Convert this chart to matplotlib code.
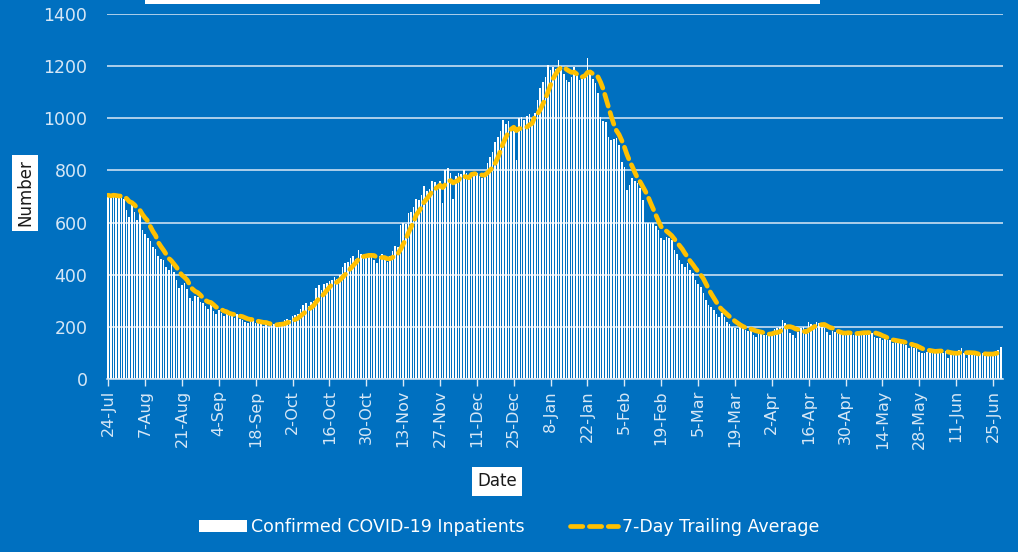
import matplotlib.pyplot as plt
import matplotlib.patches as mpatches
import numpy as np
import pandas as pd

# daily confirmed inpatients, 24-Jul-2020 onwards (14-day blocks)
inpatients = [
    705, 700, 710, 700, 695, 700, 690, 650, 620, 680, 640, 610, 650, 570,
    555, 540, 530, 505, 500, 470, 460, 455, 430, 420, 440, 410, 380, 350,
    360, 370, 345, 310, 300, 320, 315, 295, 290, 280, 270, 285, 260, 250,
    265, 255, 240, 250, 245, 240, 235, 250, 230, 225, 220, 215, 225, 230,
    215, 220, 210, 205, 212, 200, 215, 210, 205, 218, 212, 225, 230, 228,
    240, 245, 250, 270, 285, 290, 280, 295, 300, 350, 360, 340, 365, 370,
    375, 380, 390, 385, 400, 430, 445, 450, 465, 470, 460, 495, 480, 470,
    465, 480, 470, 455, 445, 470, 480, 460, 450, 470, 490, 510, 505, 590,
    600, 595, 635, 640, 660, 690, 685, 705, 740, 720, 730, 760, 755, 740,
    760, 675, 800, 810, 790, 690, 780, 790, 785, 800, 790, 770, 780, 795,
    790, 780, 770, 790, 830, 850, 870, 910, 930, 950, 995, 980, 990, 955,
    960, 840, 1000, 1005, 995, 1010, 1015, 1000, 1020, 1070, 1115, 1140, 1160, 1205,
    1185, 1198, 1190, 1225, 1200, 1170, 1147, 1140, 1160, 1198, 1170, 1147, 1150, 1175,
    1230, 1175, 1150, 1134, 1096, 1006, 990, 987, 930, 915, 920, 923, 898, 834,
    814, 725, 744, 770, 760, 750, 732, 687, 597, 600, 598, 597, 585, 572,
    540, 533, 546, 540, 533, 495, 480, 456, 440, 431, 444, 420, 405, 380,
    365, 354, 329, 303, 284, 275, 265, 250, 239, 252, 239, 220, 210, 200,
    195, 190, 200, 198, 188, 185, 190, 170, 162, 185, 180, 170, 168, 172,
    175, 190, 194, 200, 226, 215, 205, 175, 170, 156, 180, 195, 200, 190,
    220, 210, 205, 220, 215, 200, 195, 180, 170, 185, 180, 175, 178, 170,
    175, 180, 178, 170, 172, 180, 178, 185, 180, 182, 178, 162, 158, 156,
    150, 152, 148, 150, 137, 145, 143, 140, 135, 130, 118, 125, 120, 124,
    105, 100, 99, 105, 110, 111, 112, 110, 105, 100, 108, 79, 95, 100,
    104, 111, 118, 100, 79, 98, 96, 100, 92, 95, 100, 96, 92, 95,
    100, 108, 111, 124,
]
start_date = "2020-07-24"
y_ticks = [0, 200, 400, 600, 800, 1000, 1200, 1400]

dates = pd.date_range(start_date, periods=len(inpatients), freq="D")
avg7 = pd.Series(inpatients).rolling(7, min_periods=1).mean()
x = np.arange(len(inpatients))

BG = "#0070C0"
TXT = "#d6e7f6"
GOLD = "#FFC000"

fig = plt.figure(figsize=(10.18, 5.52), dpi=100, facecolor=BG)
ax = fig.add_axes([0.105, 0.3134, 0.88, 0.6612])
ax.set_facecolor(BG)

bars = ax.bar(x, inpatients, width=0.62, color="white", linewidth=0,
              label="Confirmed COVID-19 Inpatients", zorder=2)
line, = ax.plot(x, avg7, color=GOLD, lw=3.4, ls=(0, (2.6, 1.4)),
                dash_capstyle="round", label="7-Day Trailing Average", zorder=3)

ax.set_ylim(0, 1400)
ax.set_yticks(y_ticks)
ax.set_xlim(-0.5, len(inpatients) - 0.3)
tick_idx = x[::14]
ax.set_xticks(tick_idx)
ax.set_xticklabels([f"{d.day}-{d:%b}" for d in dates[tick_idx]], rotation=90)

ax.grid(axis="y", color="#dbe9f6", lw=1.1, zorder=1)
ax.set_axisbelow(True)
for s in ["top", "right", "left"]:
    ax.spines[s].set_visible(False)
ax.spines["bottom"].set_color("#dbe9f6")
ax.spines["bottom"].set_linewidth(1.1)
ax.tick_params(axis="y", length=0, colors=TXT, labelsize=12.5, pad=14)
ax.tick_params(axis="x", length=5, width=1, colors="#dbe9f6",
               labelcolor=TXT, labelsize=11.5, pad=3)

# axis titles in white boxes
fig.text(25 / 1018, 1 - 193 / 552, "Number", rotation=90, ha="center",
         va="center", fontsize=12, color="#1a1a1a",
         bbox=dict(fc="white", ec="none", pad=3))
fig.text(497 / 1018, 1 - 481 / 552, "Date", ha="center", va="center",
         fontsize=12, color="#1a1a1a",
         bbox=dict(fc="white", ec="none", pad=4))

# top of the title box, cut off by the image edge
fig.add_artist(mpatches.Rectangle((145 / 1018, 1 - 4 / 552), 675 / 1018,
                                  0.02, transform=fig.transFigure,
                                  fc="white", ec="none"))

fig.legend(handles=[bars, line], loc="center",
           bbox_to_anchor=(0.5, 1 - 527 / 552), ncol=2, frameon=False,
           fontsize=12.5, labelcolor="white",
           handlelength=2.8, columnspacing=2.6, handletextpad=0.2)

fig.savefig("out.png", dpi=100, facecolor=BG)
